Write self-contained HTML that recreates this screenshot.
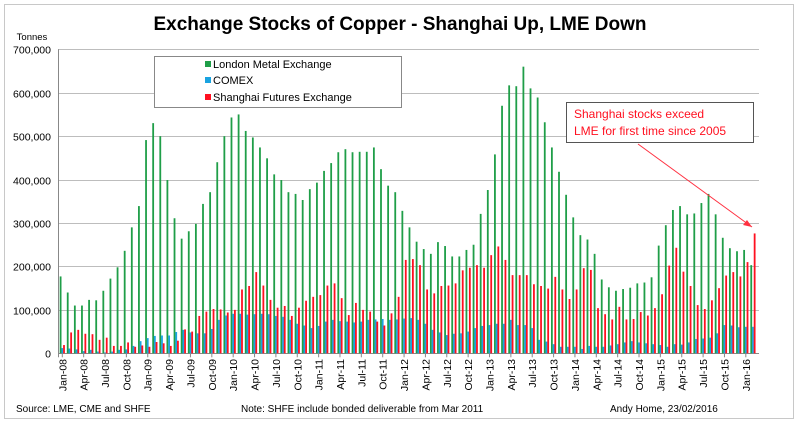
<!DOCTYPE html>
<html><head><meta charset="utf-8"><style>
body{margin:0;background:#fff;}
svg{display:block;font-family:"Liberation Sans",Arial,sans-serif;}
</style></head><body>
<svg id="chart" width="800" height="423" viewBox="0 0 800 423" xmlns="http://www.w3.org/2000/svg">
<rect x="4.5" y="4.5" width="789" height="414" fill="#fff" stroke="#c8c8c8"/>
<text x="400" y="30" text-anchor="middle" font-size="19" font-weight="bold">Exchange Stocks of Copper - Shanghai Up, LME Down</text>
<text x="32" y="40" text-anchor="middle" font-size="9.5">Tonnes</text>
<g id="grid"></g>
<g id="bars"></g>
<g id="xlabels"></g>
<g id="ylabels"></g>
<g>
<rect x="154.5" y="56.5" width="247" height="51" fill="#fff" stroke="#888"/>
<rect x="205" y="61" width="6" height="6" fill="#1f9e48"/>
<text x="213" y="68" font-size="11">London Metal Exchange</text>
<rect x="205" y="77" width="6" height="6" fill="#1aa3e0"/>
<text x="213" y="84" font-size="11">COMEX</text>
<rect x="205" y="94" width="6" height="6" fill="#ff1020"/>
<text x="213" y="101" font-size="11">Shanghai Futures Exchange</text>
</g>
<g>
<rect x="566.5" y="102.5" width="187" height="40" fill="#fff" stroke="#555"/>
<text x="574" y="118" font-size="12" fill="#ff1020">Shanghai stocks exceed</text>
<text x="574" y="135" font-size="12" fill="#ff1020">LME for first time since 2005</text>
<line x1="638" y1="144" x2="752" y2="227" stroke="#ff3040" stroke-width="1"/>
<path d="M752,227 L743,225 L747,220 Z" fill="#ff3040"/>
</g>
<text x="16" y="412" font-size="10">Source: LME, CME and SHFE</text>
<text x="241" y="412" font-size="10">Note: SHFE include bonded deliverable from Mar 2011</text>
<text x="610" y="412" font-size="10">Andy Home, 23/02/2016</text>
</svg>
<script>
const startYear = 2008;
const monthNames = ["Jan","Feb","Mar","Apr","May","Jun","Jul","Aug","Sep","Oct","Nov","Dec"];
const yTicks = [0,100000,200000,300000,400000,500000,600000,700000];
const yTickLabels = ["0","100,000","200,000","300,000","400,000","500,000","600,000","700,000"];
// thousand tonnes, Jan-08 .. Feb-16
const lme = [177,140,110,110,123,122,144,172,198,236,290,339,
491,530,500,399,311,264,281,298,344,371,440,500,
543,550,512,497,474,449,412,399,371,367,353,378,
393,420,438,463,470,463,464,464,474,424,386,371,
328,290,257,240,229,256,247,223,223,238,250,321,
376,458,570,617,615,660,610,589,532,474,418,365,
313,272,262,229,170,152,144,148,151,161,163,175,
248,295,330,339,320,322,346,367,320,266,242,235,
238,203];
const comex = [12,11,9,5,8,4,2,4,8,9,17,28,
35,40,41,41,49,54,48,46,46,56,77,87,
91,91,89,90,91,90,86,84,77,68,64,58,
63,73,77,74,73,71,73,77,78,79,77,78,
80,81,77,68,54,48,42,45,46,50,58,63,
65,68,68,77,65,65,58,31,27,21,15,15,
15,10,17,15,15,18,21,25,28,25,23,21,
19,15,21,20,25,33,34,36,46,65,64,60,
61,61];
const shfe = [19,48,54,45,44,31,36,17,17,25,15,18,
15,26,23,17,29,55,50,86,96,102,101,94,
100,147,155,187,156,123,105,109,86,105,121,130,
134,156,161,127,88,116,100,96,73,64,92,130,
215,217,203,147,138,155,156,161,191,197,203,197,
226,246,215,180,180,180,159,155,149,176,147,125,
147,196,192,104,90,78,107,78,79,95,87,104,
136,202,243,188,155,111,102,122,150,179,187,177,
210,276];

const NS="http://www.w3.org/2000/svg";
const x0=58, pitch=7.12, plotRight=759, yBase=353.3, yTop=49.3, yMax=700000;
function yScale(v){return yBase-(v/yMax)*(yBase-yTop);}
function xSlot(i){return x0+i*pitch;}
function mk(tag,attrs,parent){const e=document.createElementNS(NS,tag);for(const k in attrs)e.setAttribute(k,attrs[k]);parent.appendChild(e);return e;}

const grid=document.getElementById('grid');
const ylab=document.getElementById('ylabels');
yTicks.forEach((t,k)=>{
  const y=Math.round(yScale(t))+0.5;
  const l=mk('line',{x1:x0,x2:plotRight,y1:y,y2:y,stroke:t===0?'#888':'#bdbdbd','stroke-width':1},grid);
  
  
  const tx=mk('text',{x:51,y:y+4,'text-anchor':'end','font-size':10.5},ylab);
  tx.textContent=yTickLabels[k];
  
  
});
const ax=mk('line',{x1:x0+0.5,x2:x0+0.5,y1:yTop,y2:yBase+4,stroke:'#888'},grid);



const bars=document.getElementById('bars');
const series=[[lme,'#1f9e48',2.6,'lme'],[comex,'#1aa3e0',4.3,'comex'],[shfe,'#ff1020',6.0,'shfe']];
const bw=1.8;
series.forEach(([vals,col,off,nm])=>{
  vals.forEach((v,i)=>{
    const cx=xSlot(i)+off;
    const y=yScale(v*1000);
    const r=mk('rect',{x:(cx-bw/2).toFixed(2),y:y.toFixed(2),width:bw,height:(yBase-y).toFixed(2),fill:col},bars);
    
    
  });
});

const xl=document.getElementById('xlabels');
const n=lme.length;
for(let i=0;i<n;i+=3){
  const cx=xSlot(i)+4.3;
  const yr=String((startYear+Math.floor(i/12))%100).padStart(2,'0');
  const lbl=monthNames[i%12]+'-'+yr;
  mk('line',{x1:cx,x2:cx,y1:yBase,y2:yBase+4,stroke:'#888'},grid);
  const t=mk('text',{x:0,y:0,'text-anchor':'end','font-size':10.5,transform:`translate(${(cx+4).toFixed(1)},359) rotate(-90)`},xl);
  t.textContent=lbl;
  
  
}
</script>
</body></html>
